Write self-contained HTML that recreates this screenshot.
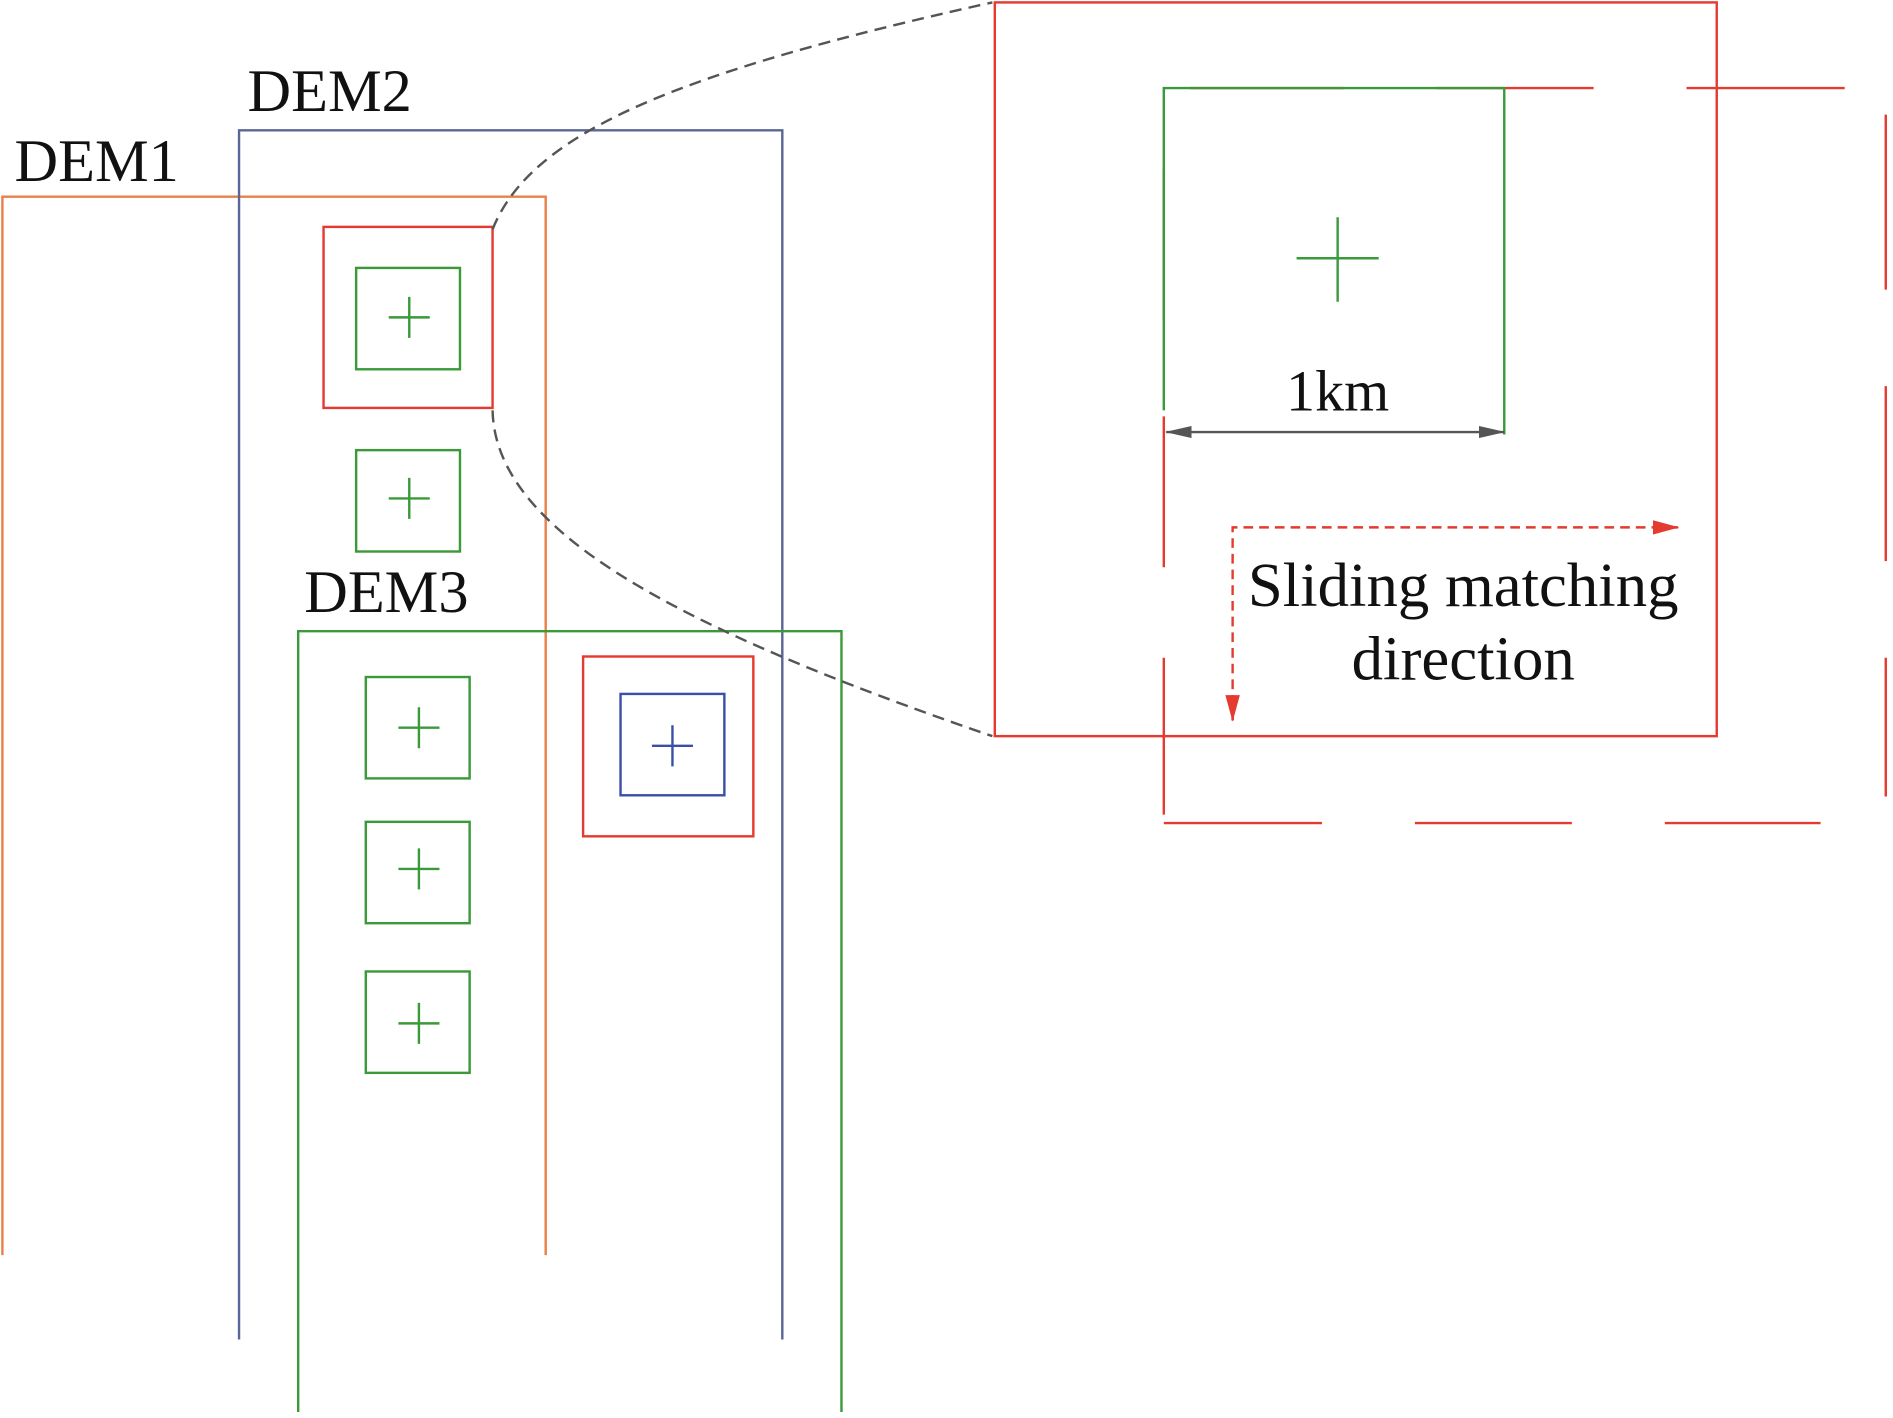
<!DOCTYPE html>
<html><head><meta charset="utf-8"><style>
html,body{margin:0;padding:0;background:#fff;}
svg{display:block;}
text{font-family:"Liberation Serif",serif;fill:#111;}
</style></head><body>
<svg width="1893" height="1418" viewBox="0 0 1568 1175" preserveAspectRatio="none" xmlns="http://www.w3.org/2000/svg">
<defs>
<marker id="agL" markerWidth="22" markerHeight="10" refX="1" refY="5" orient="auto" markerUnits="userSpaceOnUse"><path d="M22,0 L0,5 L22,10z" fill="#555"/></marker>
<marker id="agR" markerWidth="22" markerHeight="10" refX="21" refY="5" orient="auto" markerUnits="userSpaceOnUse"><path d="M0,0 L22,5 L0,10z" fill="#555"/></marker>
<marker id="ar" markerWidth="22" markerHeight="12" refX="21" refY="6" orient="auto" markerUnits="userSpaceOnUse"><path d="M0,0 L22,6 L0,12z" fill="#e53a2f"/></marker>
</defs>
<g fill="none" stroke-width="2">
<polyline points="2,1040 2,163 452,163 452,1040" stroke="#e8804a"/>
<polyline points="198,1110 198,108 648,108 648,1110" stroke="#5a6796"/>
<polyline points="247,1170 247,523 697,523 697,1170" stroke="#3a9a3a"/>
<rect x="268" y="188" width="140" height="150" stroke="#e53a2f"/>
<g stroke="#3a9a3a">
<rect x="295" y="222" width="86" height="84"/>
<path d="M322,263h34M339,246v34"/>
<rect x="295" y="373" width="86" height="84"/>
<path d="M322,413h34M339,396v34"/>
<rect x="303" y="561" width="86" height="84"/>
<path d="M330,603h34M347,586v34"/>
<rect x="303" y="681" width="86" height="84"/>
<path d="M330,720h34M347,703v34"/>
<rect x="303" y="805" width="86" height="84"/>
<path d="M330,848h34M347,831v34"/>
</g>
<rect x="483" y="544" width="141" height="149" stroke="#e53a2f"/>
<rect x="514" y="575" width="86" height="84" stroke="#3b4fa8"/>
<path d="M540,618h34M557,601v34" stroke="#3b4fa8"/>
<path d="M408,190 C440,110 560,60 822,2" stroke="#555" stroke-dasharray="10,6"/>
<path d="M408,340 C410,440 560,520 822,610" stroke="#555" stroke-dasharray="10,6"/>
<rect x="824" y="2" width="598" height="608" stroke="#e53a2f"/>
<g stroke="#e53a2f">
<path d="M986,73H1113M1190,73H1320M1397,73H1528"/>
<path d="M1562,95V240M1562,320V465M1562,545V660"/>
<path d="M964,682H1095M1172,682H1302M1379,682H1508"/>
<path d="M964,140V265M964,345V470M964,545V675"/>
</g>
<path d="M964,340V73H1246V360" stroke="#3a9a3a"/>
<path d="M1074,214h68M1108,180v70" stroke="#3a9a3a"/>
<line x1="966" y1="358" x2="1246" y2="358" stroke="#555" marker-start="url(#agL)" marker-end="url(#agR)"/>
<path d="M1021,597V437H1390" stroke="#e53a2f" stroke-dasharray="8,5"/>
<line x1="1380" y1="437" x2="1390" y2="437" stroke="#e53a2f" marker-end="url(#ar)"/>
<line x1="1021" y1="585" x2="1021" y2="597" stroke="#e53a2f" marker-end="url(#ar)"/>
</g>
<text x="12" y="150" font-size="50">DEM1</text>
<text x="205" y="92" font-size="50">DEM2</text>
<text x="252" y="507" font-size="50">DEM3</text>
<text x="1108" y="340" font-size="48" text-anchor="middle">1km</text>
<text x="1212" y="502" font-size="52" text-anchor="middle">Sliding matching</text>
<text x="1212" y="563" font-size="52" text-anchor="middle">direction</text>
</svg>
</body></html>
